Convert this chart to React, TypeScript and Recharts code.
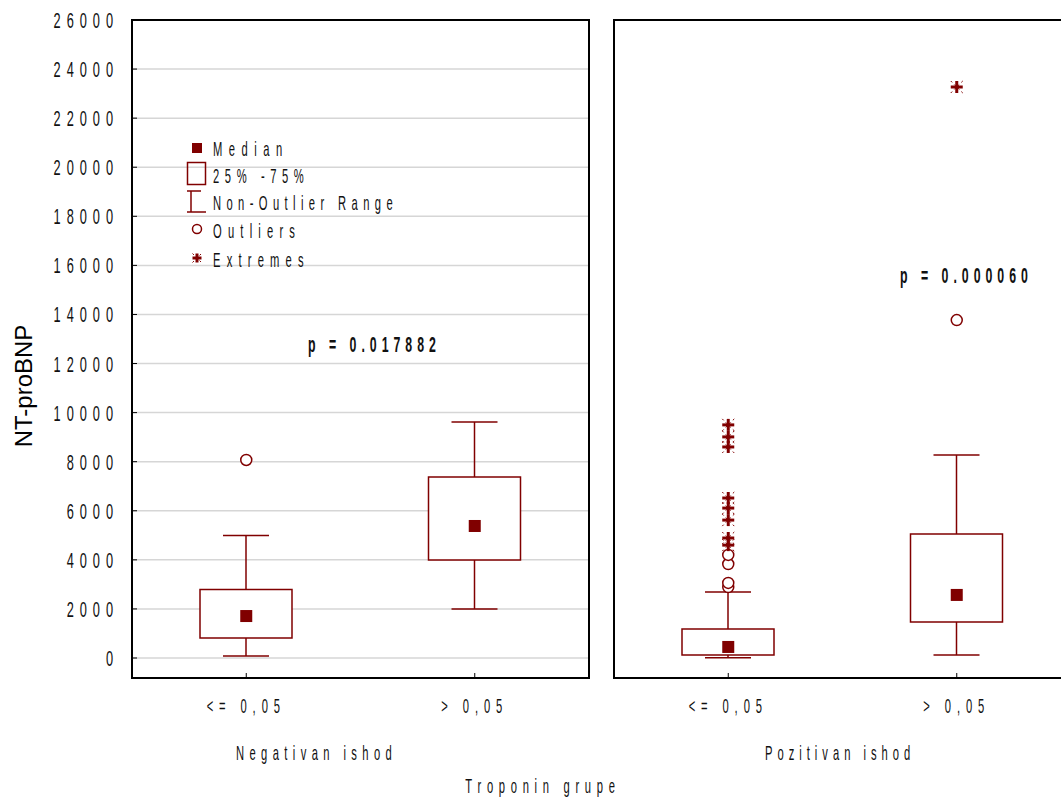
import React from 'react';
import { ComposedChart, Bar, Scatter, XAxis, YAxis, CartesianGrid, ReferenceArea } from 'recharts';

const categories = ['<= 0,05', '> 0,05'];
const yTicks = [0, 2000, 4000, 6000, 8000, 10000, 12000, 14000, 16000, 18000, 20000, 22000, 24000, 26000];
const yDomain = [-815, 26000];

// Negativan ishod
const negQ1 = [815, 3990];
const negQ3 = [2790, 7380];
const negMedian = [1710, 5380];
const negLow = [80, 2000];
const negHigh = [4990, 9620];
const negOutliers = [[8070], []];
const negExtremes: number[][] = [[], []];

// Pozitivan ishod
const posQ1 = [120, 1470];
const posQ3 = [1180, 5050];
const posMedian = [450, 2570];
const posLow = [10, 120];
const posHigh = [2690, 8270];
const posOutliers = [[2890, 3060, 3830, 4200], [13770]];
const posExtremes = [[4600, 4890, 5620, 6110, 6520, 8600, 9010, 9500], [23270]];

const RED = '#800000';
const FONT = "'Liberation Sans', Arial, sans-serif";

const makeRows = (q1: number[], q3: number[], med: number[], lo: number[], hi: number[]) =>
  categories.map((cat, i) => ({ cat, box: [q1[i], q3[i]], whisker: [lo[i], hi[i]], median: med[i] }));

const makePoints = (lists: number[][]) =>
  categories.flatMap((cat, i) => lists[i].map((v) => ({ cat, v })));

// Statistica-style squeezed, letter-spaced text
function SText({ x, y, text, size = 20, sx = 0.56, gap = 5.5, anchor = 'start', bold = false }: any) {
  return (
    <text
      transform={`translate(${x},${y}) scale(${sx},1)`}
      fontFamily={FONT}
      fontSize={size}
      fontWeight={bold ? 700 : 400}
      letterSpacing={gap / sx}
      textAnchor={anchor}
      fill="#111"
    >
      {text}
    </text>
  );
}

function Whisker(props: any) {
  const { x, y, width, height } = props;
  const top = Math.min(y, y + height);
  const bot = Math.max(y, y + height);
  const cx = x + width / 2;
  return (
    <g stroke={RED} strokeWidth={1.5}>
      <line x1={cx} x2={cx} y1={top} y2={bot} />
      <line x1={x} x2={x + width} y1={top} y2={top} />
      <line x1={x} x2={x + width} y1={bot} y2={bot} />
    </g>
  );
}

function Star({ cx, cy, s = 6 }: any) {
  return (
    <g stroke={RED}>
      <line x1={cx - s} x2={cx + s} y1={cy} y2={cy} strokeWidth={3} />
      <line x1={cx} x2={cx} y1={cy - s} y2={cy + s} strokeWidth={3} />
      <line x1={cx - s} x2={cx + s} y1={cy - s} y2={cy + s} strokeWidth={1} strokeDasharray="2 3" />
      <line x1={cx - s} x2={cx + s} y1={cy + s} y2={cy - s} strokeWidth={1} strokeDasharray="2 3" />
    </g>
  );
}

const YTick = ({ x, y, payload }: any) => (
  <SText x={x} y={y + 8} text={String(payload.value)} size={22} sx={0.58} gap={6} anchor="end" />
);

const XTick = ({ x, y, payload }: any) => (
  <SText x={x} y={y + 35} text={payload.value} size={20} gap={5.9} anchor="middle" />
);

function Panel({ left, width, margin, yWidth, showLabels, rows, outliers, extremes }: any) {
  return (
    <div style={{ position: 'absolute', left, top: 0 }}>
      <ComposedChart width={width} height={800} data={rows} margin={margin}>
        <CartesianGrid xAxisId="m" vertical={false} stroke="#d6d6d6" strokeWidth={1.5} />
        <XAxis
          xAxisId="m"
          dataKey="cat"
          allowDuplicatedCategory={false}
          height={60}
          axisLine={false}
          tickSize={-5}
          tickMargin={5}
          tickLine={{ stroke: '#000' }}
          tick={<XTick />}
        />
        <XAxis xAxisId="w" dataKey="cat" hide height={0} />
        <XAxis xAxisId="b" dataKey="cat" hide height={0} />
        <YAxis
          domain={yDomain}
          ticks={yTicks}
          allowDataOverflow
          width={yWidth}
          axisLine={false}
          tickSize={-5}
          tickMargin={18}
          tickLine={{ stroke: '#000' }}
          tick={showLabels ? <YTick /> : false}
        />
        <YAxis
          yAxisId="r"
          orientation="right"
          domain={yDomain}
          ticks={yTicks}
          allowDataOverflow
          width={1}
          axisLine={false}
          tickSize={-5}
          tickLine={{ stroke: '#000' }}
          tick={false}
        />
        <Bar xAxisId="w" dataKey="whisker" barSize={46} shape={<Whisker />} isAnimationActive={false} />
        <Bar xAxisId="b" dataKey="box" barSize={92} fill="#fff" stroke={RED} strokeWidth={1.5} isAnimationActive={false} />
        <Scatter
          xAxisId="m"
          dataKey="median"
          isAnimationActive={false}
          shape={(p: any) => <rect x={p.cx - 6} y={p.cy - 6} width={12} height={12} fill={RED} />}
        />
        <Scatter
          xAxisId="m"
          data={outliers}
          dataKey="v"
          isAnimationActive={false}
          shape={(p: any) => <circle cx={p.cx} cy={p.cy} r={5.5} fill="#fff" stroke={RED} strokeWidth={1.5} />}
        />
        <Scatter
          xAxisId="m"
          data={extremes}
          dataKey="v"
          isAnimationActive={false}
          shape={(p: any) => <Star cx={p.cx} cy={p.cy} />}
        />
        <ReferenceArea xAxisId="m" y1={yDomain[0]} y2={yDomain[1]} fill="none" stroke="#000" strokeWidth={2} ifOverflow="visible" />
      </ComposedChart>
    </div>
  );
}

function LegendOverlay() {
  return (
    <g>
      <rect x={192} y={143} width={10} height={10} fill={RED} />
      <rect x={187.5} y={162.5} width={18} height={22} fill="none" stroke={RED} strokeWidth={1.5} />
      <g stroke={RED} strokeWidth={1.5}>
        <line x1={191} x2={191} y1={191} y2={212} />
        <line x1={187} x2={201} y1={191} y2={191} />
        <line x1={187} x2={206} y1={212} y2={212} />
      </g>
      <circle cx={197} cy={229} r={4.5} fill="#fff" stroke={RED} strokeWidth={1.5} />
      <Star cx={197} cy={258} s={4.5} />
      <SText x={213} y={156} text="Median" gap={6.5} />
      <SText x={213} y={183} text="25% -75%" gap={5.6} />
      <SText x={213} y={210} text="Non-Outlier Range" gap={5.4} />
      <SText x={213} y={238} text="Outliers" gap={6.2} />
      <SText x={213} y={267} text="Extremes" gap={6.2} />
    </g>
  );
}

export default function App() {
  return (
    <div style={{ position: 'absolute', left: 0, top: 0, width: 1061, height: 800, overflow: 'hidden', background: '#fff' }}>
      <Panel
        left={0}
        width={600}
        margin={{ top: 20, right: 10, bottom: 62, left: 20 }}
        yWidth={112}
        showLabels
        rows={makeRows(negQ1, negQ3, negMedian, negLow, negHigh)}
        outliers={makePoints(negOutliers)}
        extremes={makePoints(negExtremes)}
      />
      <Panel
        left={600}
        width={480}
        margin={{ top: 20, right: 8, bottom: 62, left: 13 }}
        yWidth={1}
        showLabels={false}
        rows={makeRows(posQ1, posQ3, posMedian, posLow, posHigh)}
        outliers={makePoints(posOutliers)}
        extremes={makePoints(posExtremes)}
      />
      <svg width={1061} height={800} style={{ position: 'absolute', left: 0, top: 0, pointerEvents: 'none' }}>
        <text transform="translate(32,386) rotate(-90)" textAnchor="middle" fontFamily={FONT} fontSize={24} fill="#000">
          NT-proBNP
        </text>
        <LegendOverlay />
        <SText x={308} y={352} text="p = 0.017882" size={22} sx={0.56} gap={5} bold />
        <SText x={900} y={283} text="p = 0.000060" size={22} sx={0.56} gap={5} bold />
        <SText x={236} y={760} text="Negativan ishod" gap={5.4} />
        <SText x={765} y={760} text="Pozitivan ishod" gap={5} />
        <SText x={543} y={793} text="Troponin grupe" gap={5.7} anchor="middle" />
      </svg>
    </div>
  );
}
